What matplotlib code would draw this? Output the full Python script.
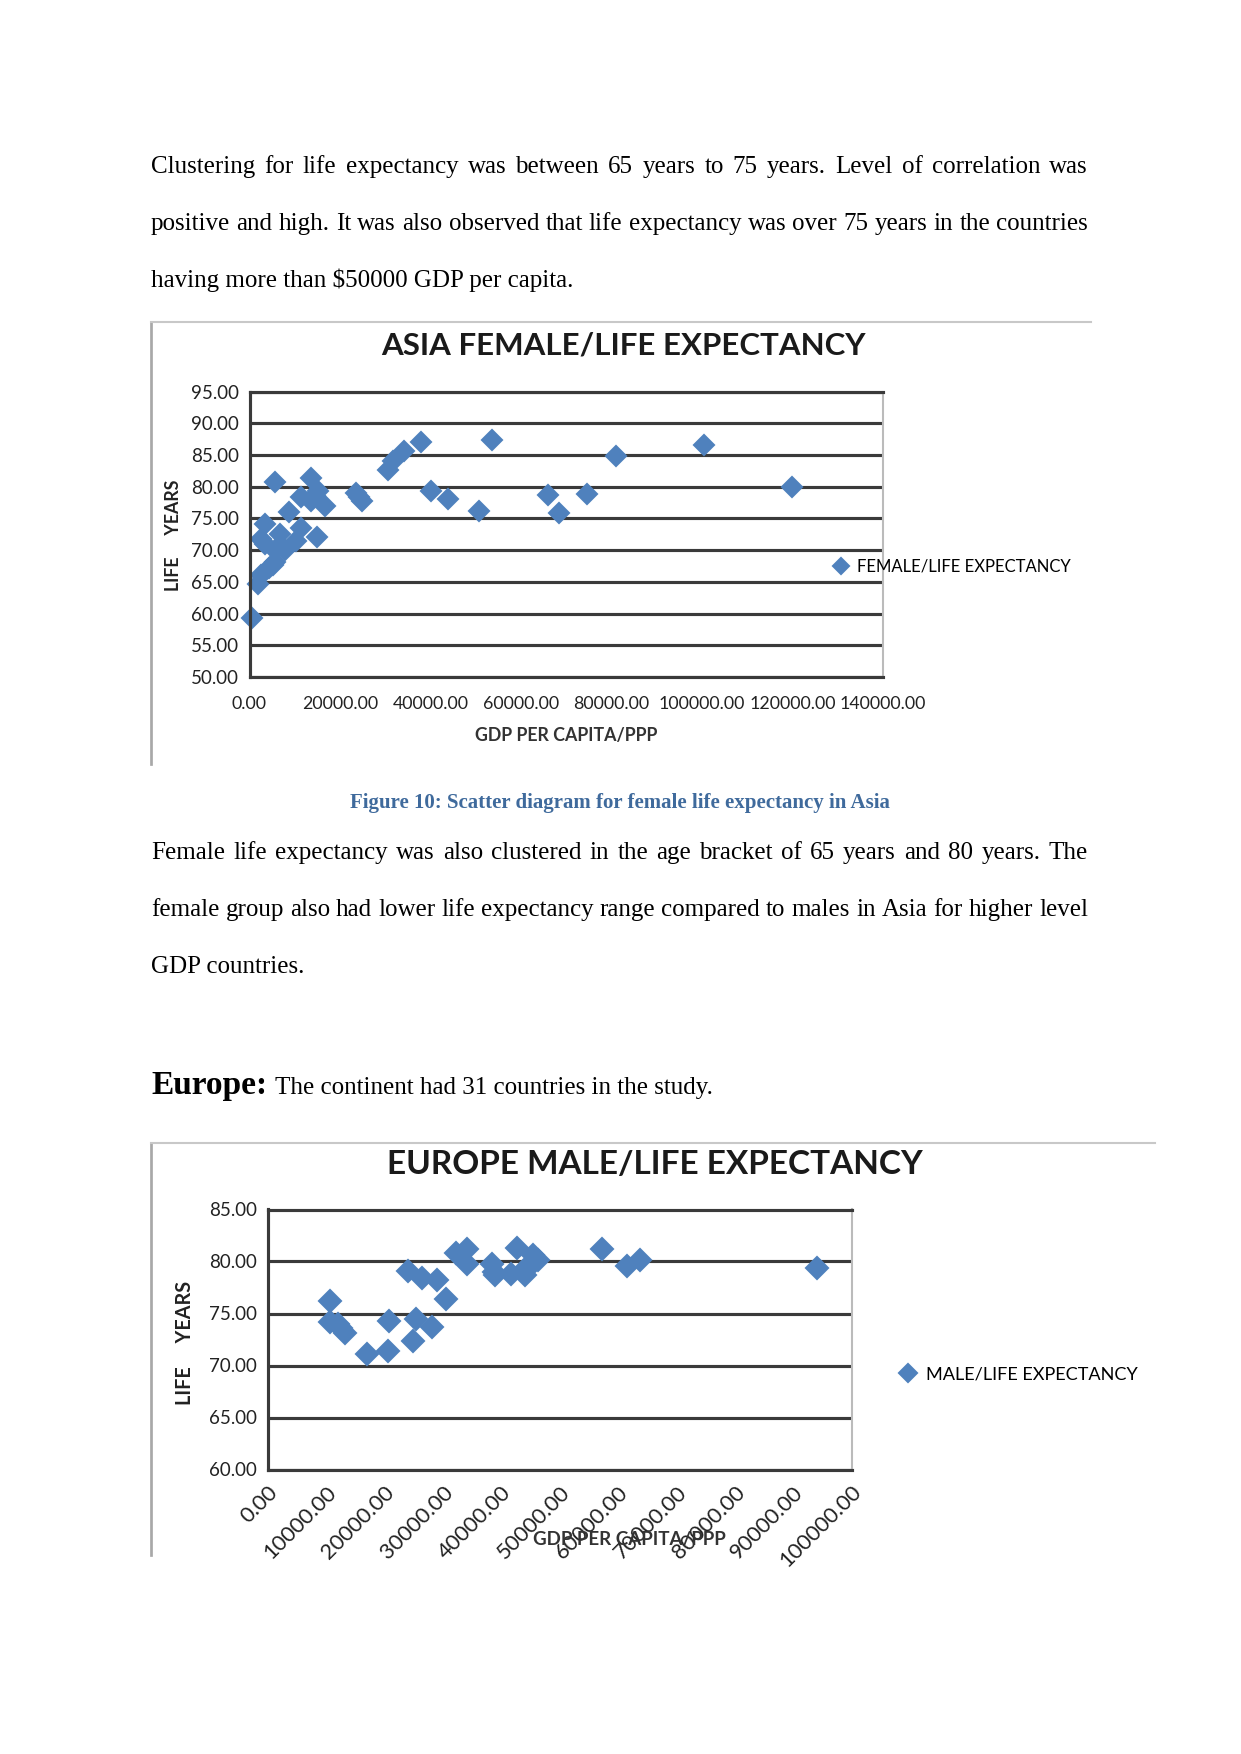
import matplotlib
matplotlib.use('Agg')
import matplotlib.pyplot as plt
from matplotlib.lines import Line2D

W, H = 1241, 1754
DPI = 150

# Asia female life expectancy vs GDP per capita
asia_gdp = [500, 1900, 2500, 2500, 3400, 3400, 4200, 5100, 5700, 5700, 5700,
            6800, 7800, 8700, 10200, 11300, 11300, 13500, 13500, 14400, 15200,
            15000, 16600, 23500, 24100, 24900, 30500, 31700, 34200, 37900,
            40200, 43900, 50700, 53700, 65900, 68500, 74600, 80900, 100500,
            119800]
asia_life = [59.3, 64.7, 66.1, 71.7, 74.2, 70.9, 67.2, 67.7, 68.2, 80.7, 70.1,
             72.6, 70.0, 76.0, 71.4, 73.5, 78.4, 81.4, 77.7, 78.6, 79.3,
             72.0, 76.9, 79.0, 78.4, 77.7, 82.6, 84.0, 85.6, 87.1,
             79.4, 78.0, 76.1, 87.4, 78.7, 75.9, 78.9, 84.9, 86.6,
             79.9]
asia_yticks = [50, 55, 60, 65, 70, 75, 80, 85, 90, 95]
asia_xticks = [0, 20000, 40000, 60000, 80000, 100000, 120000, 140000]

# Europe male life expectancy vs GDP per capita
europe_gdp = [10700, 10700, 12000, 12600, 13200, 17000, 20600, 20800, 24100,
              24900, 25400, 26500, 28200, 29000, 30600, 32300, 34200, 34200,
              38400, 38800, 38900, 41700, 42700, 44100, 44500, 45400, 45800,
              46400, 57200, 61500, 63800, 94100]
europe_life = [76.2, 74.2, 74.0, 73.6, 73.1, 71.1, 71.4, 74.3, 79.1,
               72.4, 74.5, 78.4, 73.7, 78.2, 76.4, 80.8, 81.2, 79.8,
               79.8, 79.0, 78.7, 78.8, 81.3, 78.7, 79.5, 80.6, 80.0,
               80.1, 81.2, 79.6, 80.1, 79.4]
europe_yticks = [60, 65, 70, 75, 80, 85]
europe_xticks = [0, 10000, 20000, 30000, 40000, 50000, 60000, 70000, 80000,
                 90000, 100000]

para1 = ["Clustering for life expectancy was between 65 years to 75 years. Level of correlation was",
         "positive and high. It was also observed that life expectancy was over 75 years in the countries",
         "having more than $50000 GDP per capita."]
para2 = ["Female life expectancy was also clustered in the age bracket of 65 years and 80 years. The",
         "female group also had lower life expectancy range compared to males in Asia for higher level",
         "GDP countries."]
caption = "Figure 10: Scatter diagram for female life expectancy in Asia"

BLUE = '#4F81BD'
GRID = '#3A3A3A'
SERIF = 'Liberation Serif'
SANS = 'Lato'


def fx(x):
    return x / W


def fy(y):
    return 1 - y / H


fig = plt.figure(figsize=(W / DPI, H / DPI), dpi=DPI)
renderer = fig.canvas.get_renderer()


def justify(line, y, x0=151, x1=1088, **kw):
    words = line.split()
    texts = [fig.text(0, fy(y), w, va='baseline', **kw) for w in words]
    widths = [t.get_window_extent(renderer).width for t in texts]
    gap = (x1 - x0 - sum(widths)) / (len(words) - 1)
    x = x0
    for t, w in zip(texts, widths):
        t.set_x(fx(x))
        x += w + gap


body = dict(family=SERIF, fontsize=12, color='black')
justify(para1[0], 173, **body)
justify(para1[1], 230, **body)
fig.text(fx(151), fy(287), para1[2], va='baseline', **body)

fig.text(fx(620), fy(803), caption, ha='center', va='center', family=SERIF,
         fontsize=10, fontweight='bold', color='#3F6A9C')

justify(para2[0], 859, **body)
justify(para2[1], 916, **body)
fig.text(fx(151), fy(973), para2[2], va='baseline', **body)

t = fig.text(fx(151), fy(1094), "Europe:", va='baseline', family=SERIF,
             fontsize=16, fontweight='bold')
ew = t.get_window_extent(renderer).width
fig.text(fx(151 + ew + 8), fy(1094), "The continent had 31 countries in the study.",
         va='baseline', **body)


def frame(top, bottom, right):
    fig.add_artist(Line2D([fx(151), fx(151)], [fy(top), fy(bottom)],
                          color='#A8A8A8', lw=1.3))
    fig.add_artist(Line2D([fx(151), fx(right)], [fy(top), fy(top)],
                          color='#C8C8C8', lw=1.0))


def style_axes(ax, xticks, yticks, rot, xsize, pad):
    ax.set_xlim(xticks[0], xticks[-1])
    ax.set_ylim(yticks[0], yticks[-1])
    ax.set_yticks(yticks)
    ax.set_xticks(xticks)
    ax.set_yticklabels(['%.2f' % v for v in yticks], family=SANS,
                       fontsize=9, color='#222222')
    if rot:
        ax.set_xticklabels(['%.2f' % v for v in xticks], family=SANS,
                           fontsize=xsize, color='#222222', rotation=45,
                           ha='right', va='top', rotation_mode='anchor')
    else:
        ax.set_xticklabels(['%.2f' % v for v in xticks], family=SANS,
                           fontsize=xsize, color='#222222')
    ax.tick_params(axis='y', length=0, pad=5)
    ax.tick_params(axis='x', length=0, pad=pad)
    ax.grid(axis='y', color=GRID, lw=1.5)
    ax.set_axisbelow(True)
    for s in ['left', 'bottom', 'top']:
        ax.spines[s].set_color(GRID)
        ax.spines[s].set_linewidth(1.5)
    ax.spines['right'].set_color('#BBBBBB')
    ax.spines['right'].set_linewidth(1.0)


# ---- Asia chart ----
frame(322, 764, 1091)
ax1 = fig.add_axes([fx(249.5), fy(677), fx(883) - fx(249.5), fy(391.6) - fy(677)])
ax1.plot(asia_gdp, asia_life, ls='none', marker='D', markersize=7,
         color=BLUE, clip_on=False, label='FEMALE/LIFE EXPECTANCY')
style_axes(ax1, asia_xticks, asia_yticks, False, 8.5, 9)
fig.text(fx(623), fy(345), "ASIA FEMALE/LIFE EXPECTANCY", ha='center',
         va='center', family=SANS, fontsize=15, fontweight='bold', color='#1A1A1A')
fig.text(fx(566), fy(735), "GDP PER CAPITA/PPP", ha='center', va='center',
         family=SANS, fontsize=8.5, fontweight='bold', color='#333333')
fig.text(fx(173.5), fy(535), "LIFE     YEARS", ha='center', va='center',
         rotation=90, family=SANS, fontsize=8.5, fontweight='bold', color='#222222')
ax1.legend(loc='center left', bbox_to_anchor=(fx(834), fy(567)),
           bbox_transform=fig.transFigure, frameon=False, handlelength=0.8,
           handletextpad=0.6, borderpad=0, borderaxespad=0, markerscale=0.8,
           prop=dict(family=SANS, size=8))

# ---- Europe chart ----
frame(1142.5, 1555, 1155)
ax2 = fig.add_axes([fx(267.5), fy(1469.5), fx(851.5) - fx(267.5), fy(1209.5) - fy(1469.5)])
ax2.plot(europe_gdp, europe_life, ls='none', marker='D', markersize=7.5,
         color=BLUE, clip_on=False, label='MALE/LIFE EXPECTANCY')
style_axes(ax2, europe_xticks, europe_yticks, True, 10.5, 6)
fig.text(fx(654.6), fy(1165), "EUROPE MALE/LIFE EXPECTANCY", ha='center',
         va='center', family=SANS, fontsize=16, fontweight='bold', color='#1A1A1A')
fig.text(fx(629), fy(1540), "GDP PER CAPITA/PPP", ha='center', va='center',
         family=SANS, fontsize=9, fontweight='bold', color='#333333')
fig.text(fx(184.6), fy(1343), "LIFE     YEARS", ha='center', va='center',
         rotation=90, family=SANS, fontsize=9.5, fontweight='bold', color='#222222')
ax2.legend(loc='center left', bbox_to_anchor=(fx(901), fy(1374)),
           bbox_transform=fig.transFigure, frameon=False, handlelength=0.8,
           handletextpad=0.6, borderpad=0, borderaxespad=0, markerscale=0.8,
           prop=dict(family=SANS, size=8.7))

fig.savefig('out.png', dpi=DPI)
